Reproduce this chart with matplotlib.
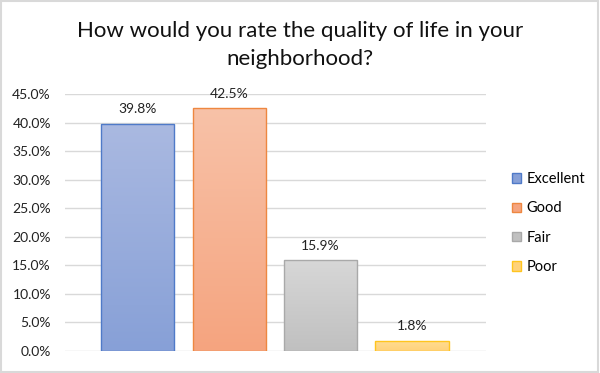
import matplotlib.pyplot as plt
import numpy as np
from matplotlib.colors import LinearSegmentedColormap
from matplotlib.patches import Rectangle
from matplotlib.ticker import FuncFormatter, MultipleLocator

categories = ["Excellent", "Good", "Fair", "Poor"]
shares = [39.8, 42.5, 15.9, 1.8]
title_lines = ["How would you rate the quality of life in your", "neighborhood?"]

# top colour, bottom colour, edge colour for each bar
top_colors = ["#aab9e1", "#f8c2a8", "#d7d7d7", "#ffdd95"]
bottom_colors = ["#87a0d7", "#f5a47f", "#c0c0c0", "#ffd27a"]
edge_colors = ["#4f7ac8", "#ee8740", "#a9a9a9", "#ffc51f"]

plt.rcParams["font.family"] = ["Lato", "DejaVu Sans"]

fig = plt.figure(figsize=(6, 3.73), dpi=100)
ax = fig.add_axes([0.108, 0.059, 0.702, 0.689])

x = np.arange(len(categories))
bars = ax.bar(x, shares, width=0.8, color="none", edgecolor=edge_colors,
              linewidth=1.0, zorder=3)

gradient = np.linspace(0, 1, 256).reshape(-1, 1)
for bar, top, bottom in zip(bars, top_colors, bottom_colors):
    cmap = LinearSegmentedColormap.from_list("g", [bottom, top])
    x0, y0 = bar.get_x(), bar.get_y()
    im = ax.imshow(gradient, cmap=cmap, aspect="auto", origin="lower",
                   extent=[x0, x0 + bar.get_width(), y0, y0 + bar.get_height()],
                   zorder=2)
    im.set_clip_path(bar)

for xi, v in zip(x, shares):
    ax.annotate(f"{v:.1f}%", (xi, v), xytext=(0, 6), textcoords="offset points",
                ha="center", va="bottom", fontsize=10, color="#222222")

ax.set_xlim(-0.80, 3.81)
ax.set_ylim(0, 45)
ax.yaxis.set_major_locator(MultipleLocator(5))
ax.yaxis.set_major_formatter(FuncFormatter(lambda v, _: f"{v:.1f}%"))
ax.set_xticks([])
ax.tick_params(axis="y", length=0, pad=10, labelsize=10, labelcolor="#222222")
ax.grid(axis="y", color="#d9d9d9", linewidth=1.0, zorder=0)
ax.set_axisbelow(True)
for s in ax.spines.values():
    s.set_visible(False)

handles = [Rectangle((0, 0), 1, 1, facecolor=c, edgecolor=e, linewidth=1.0)
           for c, e in zip(bottom_colors, edge_colors)]
fig.legend(handles, categories, loc="center left", bbox_to_anchor=(0.853, 0.402),
           frameon=False, fontsize=10.5, handlelength=0.6, handleheight=0.6,
           handletextpad=0.4, labelspacing=1.05, borderpad=0, borderaxespad=0)

fig.text(0.5, 0.9016, title_lines[0], ha="center", va="baseline", fontsize=16,
         color="#111111")
fig.text(0.5, 0.8257, title_lines[1], ha="center", va="baseline", fontsize=16,
         color="#111111")

fig.add_artist(Rectangle((0.002, 0.004), 0.994, 0.992, transform=fig.transFigure,
                         fill=False, edgecolor="#d9d9d9", linewidth=1.5))

fig.savefig("out.png", dpi=100, facecolor="white")
